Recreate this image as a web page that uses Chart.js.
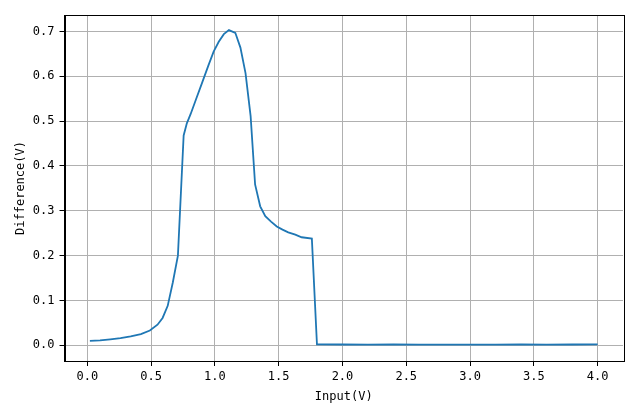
<!DOCTYPE html>
<html>
<head>
<meta charset="utf-8">
<script src="https://cdn.jsdelivr.net/npm/chart.js@4/dist/chart.umd.min.js"></script>
<style>
  html, body { margin: 0; padding: 0; background: #fff; }
  #wrap { width: 640px; height: 409px; }
</style>
</head>
<body>
<div id="wrap"><canvas id="c" width="640" height="409"></canvas></div>
<script>
const inputV = [0.02, 0.10, 0.18, 0.26, 0.34, 0.42, 0.49, 0.55, 0.59, 0.63, 0.67, 0.71,
  0.755, 0.78, 0.81, 0.85, 0.90, 0.95, 0.99, 1.03, 1.07, 1.11, 1.16, 1.20, 1.24, 1.28,
  1.315, 1.355, 1.395, 1.44, 1.485, 1.53, 1.575, 1.63, 1.68, 1.76, 1.80,
  2.0, 2.2, 2.4, 2.6, 2.8, 3.0, 3.2, 3.4, 3.6, 3.8, 4.0];
const differenceV = [0.010, 0.011, 0.0134, 0.016, 0.020, 0.025, 0.033, 0.046, 0.061, 0.088, 0.140, 0.200,
  0.468, 0.495, 0.516, 0.547, 0.586, 0.625, 0.655, 0.677, 0.694, 0.703, 0.697, 0.664, 0.607, 0.511,
  0.359, 0.310, 0.288, 0.276, 0.265, 0.258, 0.252, 0.247, 0.241, 0.238, 0.002,
  0.0018, 0.0017, 0.0018, 0.0016, 0.0017, 0.0016, 0.0017, 0.0018, 0.0017, 0.0018, 0.0019];
const xTickValues = [0, 0.5, 1.0, 1.5, 2.0, 2.5, 3.0, 3.5, 4.0];
const yTickValues = [0, 0.1, 0.2, 0.3, 0.4, 0.5, 0.6, 0.7];
const xTitle = 'Input(V)';
const yTitle = 'Difference(V)';

const FONT = "'DejaVu Sans Mono', 'Liberation Mono', monospace";

const framePlugin = {
  id: 'frame',
  afterDraw(chart) {
    const {ctx, chartArea: a} = chart;
    ctx.save();
    ctx.strokeStyle = '#000';
    ctx.lineWidth = 1;
    ctx.strokeRect(Math.round(a.left) + 0.5, Math.round(a.top) + 0.5,
      Math.round(a.right - a.left), Math.round(a.bottom - a.top));
    ctx.restore();
  }
};

new Chart(document.getElementById('c'), {
  type: 'line',
  data: {
    datasets: [{
      data: inputV.map((x, i) => ({x: x, y: differenceV[i]})),
      borderColor: '#1f77b4',
      borderWidth: 1.8,
      pointRadius: 0,
      tension: 0,
      fill: false
    }]
  },
  options: {
    responsive: false,
    animation: false,
    devicePixelRatio: 1,
    layout: { padding: { left: 0, top: 15, right: 17, bottom: 0 } },
    plugins: { legend: { display: false }, tooltip: { enabled: false } },
    scales: {
      x: {
        type: 'linear',
        min: -0.179,
        max: 4.199,
        afterBuildTicks(scale) { scale.ticks = xTickValues.map(v => ({value: v})); },
        afterFit(scale) { scale.height = 48; scale.paddingLeft = 0; scale.paddingRight = 0; },
        ticks: {
          color: '#000',
          font: { family: FONT, size: 12 },
          padding: 4,
          maxRotation: 0,
          autoSkip: false,
          callback: v => Number(v).toFixed(1)
        },
        grid: { color: '#b0b0b0', lineWidth: 1, tickColor: '#000', tickLength: 5, drawTicks: true },
        border: { display: true, color: '#000', width: 1 },
        title: {
          display: true, text: xTitle, color: '#000',
          font: { family: FONT, size: 12 },
          padding: { top: 0, bottom: 5 }
        }
      },
      y: {
        type: 'linear',
        min: -0.035,
        max: 0.7367,
        afterBuildTicks(scale) { scale.ticks = yTickValues.map(v => ({value: v})); },
        afterFit(scale) { scale.width = 64.5; },
        ticks: {
          color: '#000',
          font: { family: FONT, size: 12 },
          padding: 5,
          autoSkip: false,
          callback: v => Number(v).toFixed(1)
        },
        grid: { color: '#b0b0b0', lineWidth: 1, tickColor: '#000', tickLength: 5, drawTicks: true },
        border: { display: true, color: '#000', width: 1 },
        title: {
          display: true, text: yTitle, color: '#000',
          font: { family: FONT, size: 12 },
          padding: { top: 14, bottom: 0 }
        }
      }
    }
  },
  plugins: [framePlugin]
});
</script>
</body>
</html>
